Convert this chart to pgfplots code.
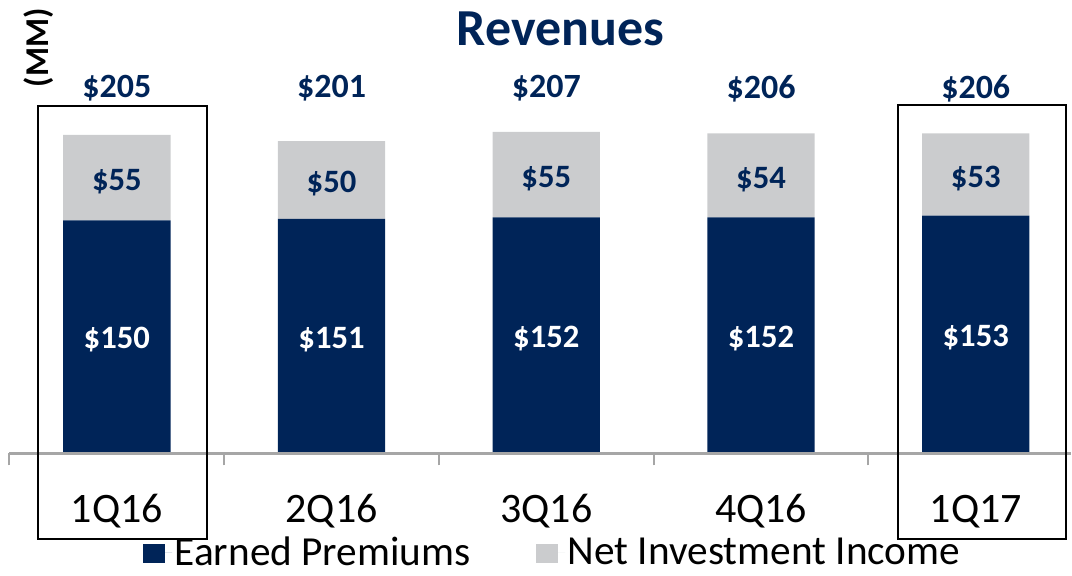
\documentclass[border=0pt]{standalone}
\usepackage{pgfplots}
\pgfplotsset{compat=1.18}
\usepackage{fontspec}
\setmainfont{Carlito}
\definecolor{navy}{HTML}{002458}
\definecolor{lgray}{HTML}{CBCCCE}
\definecolor{axgray}{HTML}{A6A6A6}
\begin{document}
\begin{tikzpicture}
\begin{axis}[
  set layers=standard,
  x=161.25pt, y=1.167pt,
  xmin=-0.5, xmax=4.442, ymin=0, ymax=230,
  axis x line*=bottom, axis y line=none,
  x axis line style={axgray, line width=2pt, -},
  ybar stacked, bar width=0.5,
  clip=false,
  xtick={0,1,2,3,4},
  xticklabels={1Q16,2Q16,3Q16,4Q16,1Q17},
  minor xtick={-0.5,0.5,1.5,2.5,3.5},
  major tick length=0pt, minor tick length=9pt,
  tick align=outside,
  major tick style={draw=none},
  minor tick style={axgray, line width=1.5pt},
  xticklabel style={anchor=base, yshift=-51.5pt, font=\fontsize{31.5}{36}\selectfont, text=black},
  ytick=\empty,
  legend columns=2,
  legend style={at={(axis cs:2.030,-63.5)}, anchor=center, draw=none, fill=none,
    font=\fontsize{31}{36}\selectfont,
    /tikz/every even column/.append style={column sep=47pt}},
  legend image code/.code={\fill[#1] (0pt,-8.5pt) rectangle (16.5pt,6.5pt); \path (16.5pt,0pt) -- (22pt,0pt);},
]
\addplot[fill=navy, draw=none, on layer=axis background] coordinates {(0,150) (1,151) (2,152) (3,152) (4,153)};
\addlegendentry{Earned Premiums}
\addplot[fill=lgray, draw=none, on layer=axis background] coordinates {(0,55) (1,50) (2,55) (3,54) (4,53)};
\addlegendentry{Net Investment Income}

% invisible extent
\path (axis cs:-0.544,291.8) (axis cs:4.442,-78.4);

% title
\node[font=\bfseries\fontsize{39}{44}\selectfont, text=navy] at (axis cs:2.065,273.5) {Revenues};
\node[font=\bfseries\fontsize{25}{30}\selectfont, rotate=90] at (axis cs:-0.365,261) {(MM)};

% totals
\node[font=\bfseries\fontsize{25.5}{30}\selectfont, text=navy] at (axis cs:0,235) {\$205};
\node[font=\bfseries\fontsize{25.5}{30}\selectfont, text=navy] at (axis cs:1,235) {\$201};
\node[font=\bfseries\fontsize{25.5}{30}\selectfont, text=navy] at (axis cs:2,235) {\$207};
\node[font=\bfseries\fontsize{25.5}{30}\selectfont, text=navy] at (axis cs:3,235) {\$206};
\node[font=\bfseries\fontsize{25.5}{30}\selectfont, text=navy] at (axis cs:4,235) {\$206};
% NII labels
\node[font=\bfseries\fontsize{24.5}{28}\selectfont, text=navy] at (axis cs:0,175) {\$55};
\node[font=\bfseries\fontsize{24.5}{28}\selectfont, text=navy] at (axis cs:1,173.5) {\$50};
\node[font=\bfseries\fontsize{24.5}{28}\selectfont, text=navy] at (axis cs:2,177) {\$55};
\node[font=\bfseries\fontsize{24.5}{28}\selectfont, text=navy] at (axis cs:3,176.5) {\$54};
\node[font=\bfseries\fontsize{24.5}{28}\selectfont, text=navy] at (axis cs:4,177) {\$53};
% EP labels
\node[font=\bfseries\fontsize{24.5}{28}\selectfont, text=white] at (axis cs:0,73) {\$150};
\node[font=\bfseries\fontsize{24.5}{28}\selectfont, text=white] at (axis cs:1,73.5) {\$151};
\node[font=\bfseries\fontsize{24.5}{28}\selectfont, text=white] at (axis cs:2,74) {\$152};
\node[font=\bfseries\fontsize{24.5}{28}\selectfont, text=white] at (axis cs:3,74) {\$152};
\node[font=\bfseries\fontsize{24.5}{28}\selectfont, text=white] at (axis cs:4,74.5) {\$153};

% highlight boxes
\draw[black, line width=1.6pt] (axis cs:-0.367,-55.3) rectangle (axis cs:0.419,223.6);
\draw[black, line width=1.6pt] (axis cs:3.637,-55.3) rectangle (axis cs:4.419,224.5);
\end{axis}
\end{tikzpicture}
\end{document}
